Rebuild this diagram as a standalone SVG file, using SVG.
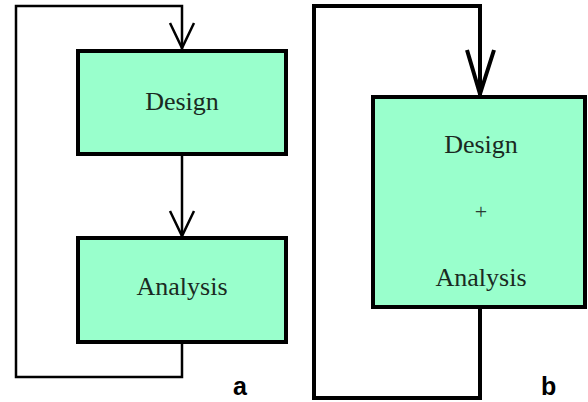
<svg xmlns="http://www.w3.org/2000/svg" width="588" height="402" viewBox="0 0 588 402">
<style>
.box{fill:#99ffcc;stroke:#000;stroke-width:4}
.lbl{font-family:"Liberation Serif","Times New Roman",serif;font-size:26px;fill:#1a2a22;text-anchor:middle}
.plus{font-family:"Liberation Serif","Times New Roman",serif;font-size:22px;fill:#2a3a32;text-anchor:middle}
.tag{font-family:"Liberation Sans",Arial,sans-serif;font-size:25px;font-weight:bold;fill:#000}
.wa{fill:none;stroke:#000;stroke-width:2.5}
.wb{fill:none;stroke:#000;stroke-width:4}
</style>
<rect width="588" height="402" fill="#fff"/>
<g id="connectors">
<path class="wa" d="M182,343 V377 H16 V6 H182 V50"/>
<path class="wa" d="M170,23 L182,48 L194,23"/>
<path class="wa" d="M182,155 V237"/>
<path class="wa" d="M170,211 L182,236 L194,211"/>
<path class="wb" d="M480,308 V398 H314 V6 H480 V96"/>
<path class="wb" d="M467,50 L480,94 L494,50"/>
</g>
<g id="design-a">
<rect class="box" x="78" y="51" width="208" height="103"/>
<text class="lbl" x="182" y="110">Design</text>
</g>
<g id="analysis-a">
<rect class="box" x="78" y="238" width="208" height="104"/>
<text class="lbl" x="182" y="295">Analysis</text>
</g>
<g id="design-analysis-b">
<rect class="box" x="373" y="97" width="212" height="210"/>
<text class="lbl" x="481" y="153">Design</text>
<text class="plus" x="481" y="219">+</text>
<text class="lbl" x="481" y="286">Analysis</text>
</g>
<text class="tag" x="233" y="395">a</text>
<text class="tag" x="541" y="395">b</text>
</svg>
